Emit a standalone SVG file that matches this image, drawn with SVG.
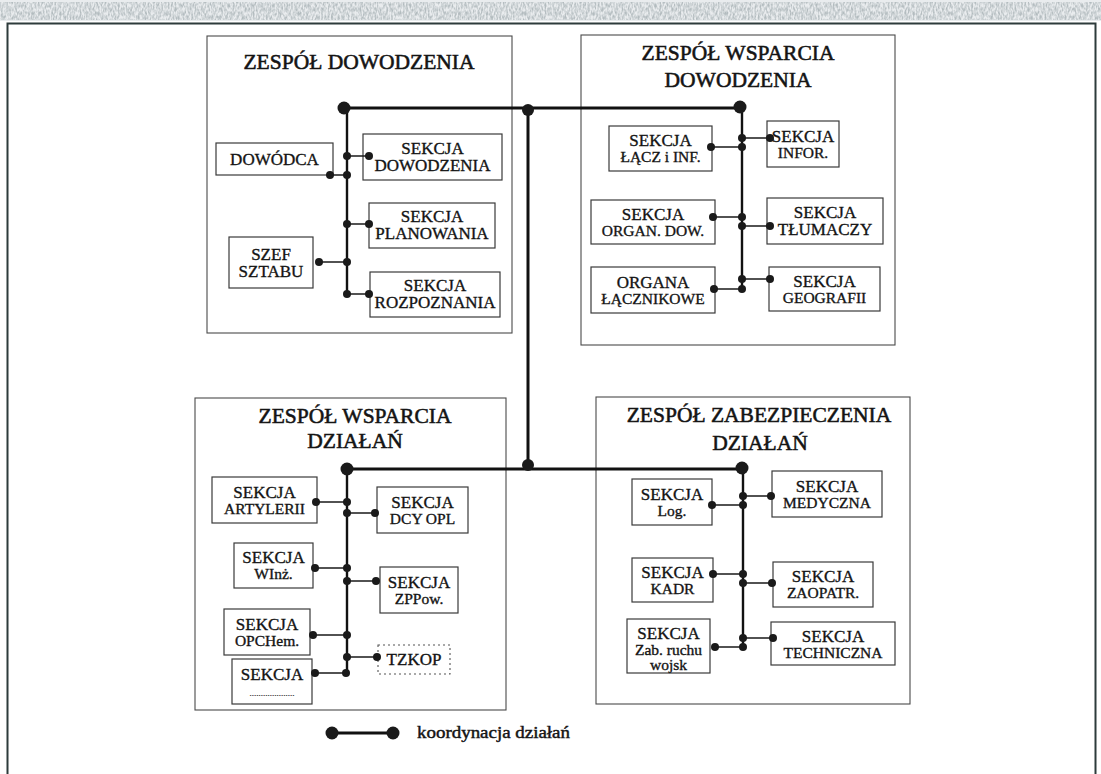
<svg xmlns="http://www.w3.org/2000/svg" width="1101" height="774" viewBox="0 0 1101 774">
  <defs>
    <filter id="grain" x="0" y="0" width="100%" height="100%">
      <feTurbulence type="fractalNoise" baseFrequency="0.6 0.25" numOctaves="2" seed="7" result="n"/>
      <feColorMatrix in="n" type="matrix" values="0 0 0 0 0.45  0 0 0 0 0.5  0 0 0 0 0.52  0 0 0 -2.2 1.5" result="g"/>
      <feComposite in="g" in2="SourceGraphic" operator="in"/>
    </filter>
    <style>
      text { font-family: "Liberation Serif", "Times New Roman", serif; fill: #141414; stroke: #141414; }
      .title { font-size: 21.5px; stroke-width: 0.55; text-anchor: middle; }
      .lbl { font-size: 17px; stroke-width: 0.35; text-anchor: middle; }
      .small { font-size: 15.5px; stroke-width: 0.35; text-anchor: middle; }
      .legend { font-size: 17px; stroke-width: 0.45; }
      .grp { fill: none; stroke: #4a4a4a; stroke-width: 1.1; }
      .box { fill: #ffffff; stroke: #3a3a3a; stroke-width: 1.2; }
      .dashed { fill: #ffffff; stroke: #555; stroke-width: 1.1; stroke-dasharray: 2 3; }
      .bus { stroke: #111; stroke-width: 3; fill: none; }
      .spine { stroke: #111; stroke-width: 2.4; fill: none; }
      .branch { stroke: #1a1a1a; stroke-width: 1.5; fill: none; }
      .dot { fill: #1a1a1a; }
    </style>
  </defs>

  <!-- page background -->
  <rect x="0" y="0" width="1101" height="774" fill="#ffffff"/>
  <!-- scanned paper edge at the top -->
  <rect x="0" y="0" width="1101" height="21" fill="#e9ecee"/>
  <rect x="0" y="2" width="1101" height="18" fill="#fff" filter="url(#grain)"/>
  <!-- outer frame -->
  <rect x="7.5" y="23.5" width="1088" height="760" fill="none" stroke="#2d3b3b" stroke-width="2"/>

  <!-- ===== ZESPÓŁ DOWODZENIA ===== -->
  <g id="zespol-dowodzenia">
    <rect class="grp" x="207" y="36" width="305" height="297"/>
    <text class="title" x="359" y="69">ZESPÓŁ DOWODZENIA</text>
  </g>
  <g id="dowodca">
    <rect class="box" x="216" y="143" width="117" height="32"/>
    <text class="lbl" x="274.5" y="165">DOWÓDCA</text>
  </g>
  <g id="sekcja-dowodzenia">
    <rect class="box" x="363" y="134" width="139" height="46"/>
    <text class="lbl" x="432.5" y="154">SEKCJA</text>
    <text class="lbl" x="432.5" y="171">DOWODZENIA</text>
  </g>
  <g id="sekcja-planowania">
    <rect class="box" x="369" y="203" width="126" height="45"/>
    <text class="lbl" x="432" y="222">SEKCJA</text>
    <text class="lbl" x="432" y="239">PLANOWANIA</text>
  </g>
  <g id="szef-sztabu">
    <rect class="box" x="229" y="237" width="84" height="51"/>
    <text class="lbl" x="271" y="260">SZEF</text>
    <text class="lbl" x="271" y="277">SZTABU</text>
  </g>
  <g id="sekcja-rozpoznania">
    <rect class="box" x="370" y="272" width="130" height="45"/>
    <text class="lbl" x="435" y="291">SEKCJA</text>
    <text class="lbl" x="435" y="308">ROZPOZNANIA</text>
  </g>

  <!-- ===== ZESPÓŁ WSPARCIA DOWODZENIA ===== -->
  <g id="zespol-wsparcia-dowodzenia">
    <rect class="grp" x="581" y="35" width="314" height="310"/>
    <text class="title" x="738" y="60">ZESPÓŁ WSPARCIA</text>
    <text class="title" x="738" y="87">DOWODZENIA</text>
  </g>
  <g id="sekcja-laczi">
    <rect class="box" x="609" y="126" width="103" height="45"/>
    <text class="lbl" x="660.5" y="146">SEKCJA</text>
    <text class="small" x="660.5" y="162">ŁĄCZ i INF.</text>
  </g>
  <g id="sekcja-infor">
    <rect class="box" x="767" y="121" width="72" height="46"/>
    <text class="lbl" x="803" y="142">SEKCJA</text>
    <text class="small" x="803" y="158">INFOR.</text>
  </g>
  <g id="sekcja-organ-dow">
    <rect class="box" x="591" y="200" width="124" height="44"/>
    <text class="lbl" x="653" y="220">SEKCJA</text>
    <text class="small" x="653" y="236">ORGAN. DOW.</text>
  </g>
  <g id="sekcja-tlumaczy">
    <rect class="box" x="767" y="198" width="116" height="46"/>
    <text class="lbl" x="825" y="218">SEKCJA</text>
    <text class="lbl" x="825" y="235">TŁUMACZY</text>
  </g>
  <g id="organa-lacznikowe">
    <rect class="box" x="591" y="267" width="124" height="46"/>
    <text class="lbl" x="653" y="288">ORGANA</text>
    <text class="small" x="653" y="304">ŁĄCZNIKOWE</text>
  </g>
  <g id="sekcja-geografii">
    <rect class="box" x="769" y="267" width="111" height="44"/>
    <text class="lbl" x="824.5" y="287">SEKCJA</text>
    <text class="small" x="824.5" y="303">GEOGRAFII</text>
  </g>

  <!-- ===== ZESPÓŁ WSPARCIA DZIAŁAŃ ===== -->
  <g id="zespol-wsparcia-dzialan">
    <rect class="grp" x="195" y="398" width="311" height="312"/>
    <text class="title" x="355" y="423">ZESPÓŁ WSPARCIA</text>
    <text class="title" x="355" y="448">DZIAŁAŃ</text>
  </g>
  <g id="sekcja-artylerii">
    <rect class="box" x="212" y="477" width="105" height="46"/>
    <text class="lbl" x="264.5" y="498">SEKCJA</text>
    <text class="small" x="264.5" y="514">ARTYLERII</text>
  </g>
  <g id="sekcja-dcy-opl">
    <rect class="box" x="377" y="487" width="91" height="46"/>
    <text class="lbl" x="422.5" y="508">SEKCJA</text>
    <text class="small" x="422.5" y="524">DCY OPL</text>
  </g>
  <g id="sekcja-winz">
    <rect class="box" x="234" y="543" width="79" height="45"/>
    <text class="lbl" x="273.5" y="563">SEKCJA</text>
    <text class="small" x="273.5" y="579">WInż.</text>
  </g>
  <g id="sekcja-zppow">
    <rect class="box" x="380" y="567" width="78" height="46"/>
    <text class="lbl" x="419" y="588">SEKCJA</text>
    <text class="small" x="419" y="604">ZPPow.</text>
  </g>
  <g id="sekcja-opchem">
    <rect class="box" x="224" y="609" width="86" height="46"/>
    <text class="lbl" x="267" y="630">SEKCJA</text>
    <text class="small" x="267" y="646">OPCHem.</text>
  </g>
  <g id="tzkop">
    <rect class="dashed" x="378" y="645" width="72" height="29"/>
    <text class="lbl" x="414" y="665">TZKOP</text>
  </g>
  <g id="sekcja-inna">
    <rect class="box" x="232" y="659" width="80" height="45"/>
    <text class="lbl" x="272" y="680">SEKCJA</text>
    <text x="272" y="696" font-size="9" text-anchor="middle" stroke-width="0.2">....................</text>
  </g>

  <!-- ===== ZESPÓŁ ZABEZPIECZENIA DZIAŁAŃ ===== -->
  <g id="zespol-zabezpieczenia-dzialan">
    <rect class="grp" x="596" y="397" width="314" height="307"/>
    <text class="title" x="759" y="422">ZESPÓŁ ZABEZPIECZENIA</text>
    <text class="title" x="760" y="450">DZIAŁAŃ</text>
  </g>
  <g id="sekcja-log">
    <rect class="box" x="632" y="479" width="80" height="46"/>
    <text class="lbl" x="672" y="500">SEKCJA</text>
    <text class="small" x="672" y="516">Log.</text>
  </g>
  <g id="sekcja-medyczna">
    <rect class="box" x="772" y="471" width="110" height="46"/>
    <text class="lbl" x="827" y="492">SEKCJA</text>
    <text class="small" x="827" y="508">MEDYCZNA</text>
  </g>
  <g id="sekcja-kadr">
    <rect class="box" x="632" y="558" width="81" height="44"/>
    <text class="lbl" x="672.5" y="578">SEKCJA</text>
    <text class="small" x="672.5" y="594">KADR</text>
  </g>
  <g id="sekcja-zaopatr">
    <rect class="box" x="773" y="562" width="100" height="45"/>
    <text class="lbl" x="823" y="582">SEKCJA</text>
    <text class="small" x="823" y="598">ZAOPATR.</text>
  </g>
  <g id="sekcja-zab-ruchu">
    <rect class="box" x="627" y="619" width="83" height="54"/>
    <text class="lbl" x="668.5" y="639">SEKCJA</text>
    <text class="small" x="668.5" y="655">Zab. ruchu</text>
    <text class="small" x="668.5" y="670">wojsk</text>
  </g>
  <g id="sekcja-techniczna">
    <rect class="box" x="771" y="622" width="124" height="43"/>
    <text class="lbl" x="833" y="642">SEKCJA</text>
    <text class="small" x="833" y="658">TECHNICZNA</text>
  </g>

  <!-- ===== connectors: coordination buses, spines and branches ===== -->
  <g id="connectors">
    <path class="bus" d="M344,108 H740 M528,108 V468 M347,469 H742"/>
    <path class="spine" d="M347,108 V295 M742,108 V289 M347,469 V673 M743,468 V647"/>
    <path class="branch" d="
      M347,156 H369 M330,175 H347 M347,224 H369 M319,262 H347 M347,294 H369
      M742,138 H770 M711,147 H742 M713,217 H742 M742,226 H770 M742,279 H770 M714,289 H742
      M316,502 H347 M347,513 H375 M315,568 H347 M347,581 H376 M313,635 H347 M347,657 H377 M315,673 H347
      M743,496 H771 M712,505 H743 M713,574 H743 M743,583 H772 M743,638 H773 M715,647 H743"/>
    <g class="dot">
      <!-- bus junctions -->
      <circle cx="344" cy="108" r="6.5"/>
      <circle cx="528" cy="110" r="6"/>
      <circle cx="740" cy="107" r="6.5"/>
      <circle cx="347" cy="469" r="6.5"/>
      <circle cx="528" cy="465" r="6"/>
      <circle cx="742" cy="468" r="6.5"/>
      <!-- zespół dowodzenia -->
      <circle cx="347" cy="156" r="4"/><circle cx="369" cy="156" r="4"/>
      <circle cx="330" cy="175" r="4"/><circle cx="347" cy="175" r="4"/>
      <circle cx="347" cy="224" r="4"/><circle cx="369" cy="224" r="4"/>
      <circle cx="319" cy="262" r="4"/><circle cx="347" cy="262" r="4"/>
      <circle cx="347" cy="294" r="4"/><circle cx="369" cy="294" r="4"/>
      <!-- zespół wsparcia dowodzenia -->
      <circle cx="742" cy="138" r="4"/><circle cx="770" cy="138" r="4"/>
      <circle cx="711" cy="147" r="4"/><circle cx="742" cy="147" r="4"/>
      <circle cx="713" cy="217" r="4"/><circle cx="742" cy="217" r="4"/>
      <circle cx="742" cy="226" r="4"/><circle cx="770" cy="226" r="4"/>
      <circle cx="742" cy="279" r="4"/><circle cx="770" cy="279" r="4"/>
      <circle cx="714" cy="289" r="4"/><circle cx="742" cy="289" r="4"/>
      <!-- zespół wsparcia działań -->
      <circle cx="316" cy="502" r="4"/><circle cx="347" cy="502" r="4"/>
      <circle cx="347" cy="513" r="4"/><circle cx="375" cy="513" r="4"/>
      <circle cx="315" cy="568" r="4"/><circle cx="347" cy="568" r="4"/>
      <circle cx="347" cy="581" r="4"/><circle cx="376" cy="581" r="4"/>
      <circle cx="313" cy="635" r="4"/><circle cx="347" cy="635" r="4"/>
      <circle cx="347" cy="657" r="4"/><circle cx="377" cy="657" r="4"/>
      <circle cx="315" cy="673" r="4"/><circle cx="346" cy="673" r="4"/>
      <!-- zespół zabezpieczenia działań -->
      <circle cx="743" cy="496" r="4"/><circle cx="771" cy="496" r="4"/>
      <circle cx="712" cy="505" r="4"/><circle cx="743" cy="505" r="4"/>
      <circle cx="713" cy="574" r="4"/><circle cx="743" cy="574" r="4"/>
      <circle cx="743" cy="583" r="4"/><circle cx="772" cy="583" r="4"/>
      <circle cx="743" cy="638" r="4"/><circle cx="773" cy="638" r="4"/>
      <circle cx="715" cy="647" r="4"/><circle cx="743" cy="647" r="4"/>
    </g>
  </g>

  <!-- legend -->
  <g id="legend">
    <path class="bus" d="M332,733 H393" stroke-width="2.5"/>
    <circle class="dot" cx="332" cy="733" r="6.5"/>
    <circle class="dot" cx="393" cy="733" r="6.5"/>
    <text class="legend" x="417" y="738" textLength="153" lengthAdjust="spacingAndGlyphs">koordynacja działań</text>
  </g>
</svg>
